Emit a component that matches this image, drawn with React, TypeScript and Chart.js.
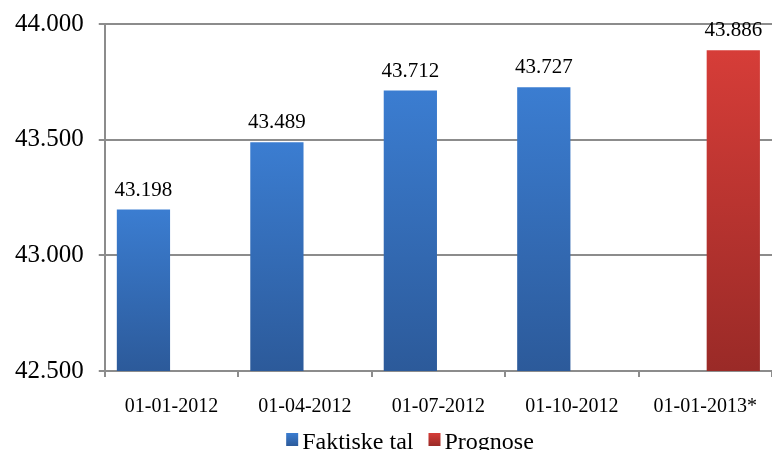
import { useEffect, useRef } from 'react';
import { Chart, registerables } from 'chart.js';

Chart.register(...registerables);

const categories = ['01-01-2012', '01-04-2012', '01-07-2012', '01-10-2012', '01-01-2013*'];
const actualValues: (number | null)[] = [43198, 43489, 43712, 43727, null];
const forecastValues: (number | null)[] = [null, null, null, null, 43886];
const seriesNames = ['Faktiske tal', 'Prognose'];
const yMin = 42500;
const yMax = 44000;
const yStep = 500;

const FONT = '"Liberation Serif", "Times New Roman", serif';
const BLUE_TOP = '#3b7dd1';
const BLUE_BOTTOM = '#2c5a9a';
const RED_TOP = '#d63d38';
const RED_BOTTOM = '#9a2a27';

const fmt = (n: number) => {
  const t = Math.floor(n / 1000);
  const r = Math.round(n % 1000);
  return t + '.' + String(r).padStart(3, '0');
};

function barGradient(ctx: any, top: string, bottom: string) {
  const chart = ctx.chart;
  const area = chart.chartArea;
  const v = ctx.raw;
  if (!area || v == null || !chart.scales.y) return top;
  const y = chart.scales.y.getPixelForValue(v);
  const g = chart.ctx.createLinearGradient(0, y, 0, area.bottom);
  g.addColorStop(0, top);
  g.addColorStop(1, bottom);
  return g;
}

const labelPlugin = {
  id: 'valueLabels',
  afterDatasetsDraw(chart: any) {
    const c = chart.ctx;
    c.save();
    c.font = '21px ' + FONT;
    c.fillStyle = '#000';
    c.textAlign = 'center';
    c.textBaseline = 'alphabetic';
    chart.data.datasets.forEach((ds: any, i: number) => {
      const meta = chart.getDatasetMeta(i);
      meta.data.forEach((el: any, j: number) => {
        const v = ds.data[j];
        if (v == null) return;
        c.fillText(fmt(v), el.x, el.y - 14);
      });
    });
    c.restore();
  },
};

const legendPlugin = {
  id: 'customLegend',
  afterDraw(chart: any) {
    const c = chart.ctx;
    c.save();
    c.font = '24px ' + FONT;
    c.textBaseline = 'alphabetic';
    c.textAlign = 'left';
    const items = [
      { text: seriesNames[0], top: BLUE_TOP, bottom: BLUE_BOTTOM },
      { text: seriesNames[1], top: RED_TOP, bottom: RED_BOTTOM },
    ];
    const box = 12;
    const gapBoxText = 4;
    const gapItems = 15;
    let total = 0;
    items.forEach((it, i) => {
      total += box + gapBoxText + c.measureText(it.text).width + (i < items.length - 1 ? gapItems : 0);
    });
    let x = 410 - total / 2;
    const baseline = 449;
    const boxTop = 433;
    items.forEach((it) => {
      const g = c.createLinearGradient(0, boxTop, 0, boxTop + 13);
      g.addColorStop(0, it.top);
      g.addColorStop(1, it.bottom);
      c.fillStyle = g;
      c.fillRect(x, boxTop, box, 13);
      x += box + gapBoxText;
      c.fillStyle = '#000';
      c.fillText(it.text, x, baseline);
      x += c.measureText(it.text).width + gapItems;
    });
    c.restore();
  },
};

export default function App() {
  const ref = useRef<HTMLCanvasElement | null>(null);
  useEffect(() => {
    document.body.style.margin = '0';
    if (!ref.current) return;
    const chart = new Chart(ref.current, {
      type: 'bar',
      data: {
        labels: categories,
        datasets: [
          {
            label: seriesNames[0],
            data: actualValues,
            backgroundColor: (ctx: any) => barGradient(ctx, BLUE_TOP, BLUE_BOTTOM),
            categoryPercentage: 0.84,
            barPercentage: 0.95,
          },
          {
            label: seriesNames[1],
            data: forecastValues,
            backgroundColor: (ctx: any) => barGradient(ctx, RED_TOP, RED_BOTTOM),
            categoryPercentage: 0.84,
            barPercentage: 0.95,
          },
        ],
      },
      options: {
        animation: false,
        responsive: false,
        layout: { padding: { top: 24, left: 0, right: 0, bottom: 13 } },
        plugins: {
          tooltip: { enabled: false },
          legend: { display: false },
        },
        scales: {
          x: {
            afterFit: (s: any) => {
              s.paddingRight = 0;
              s.paddingLeft = 0;
            },
            grid: {
              drawOnChartArea: false,
              drawTicks: true,
              tickLength: 6,
              color: '#8c8c8c',
              lineWidth: 2,
            },
            border: { color: '#8c8c8c', width: 2 },
            ticks: {
              font: { family: FONT, size: 20 },
              color: '#000',
              padding: 18,
              maxRotation: 0,
            },
          },
          y: {
            min: yMin,
            max: yMax,
            afterFit: (s: any) => {
              s.paddingTop = 0;
            },
            grid: {
              color: '#8c8c8c',
              lineWidth: 2,
              tickLength: 6,
            },
            border: { color: '#8c8c8c', width: 2 },
            ticks: {
              stepSize: yStep,
              font: { family: FONT, size: 25 },
              color: '#000',
              padding: 15,
              callback: (v: any) => fmt(Number(v)),
            },
          },
        },
      },
      plugins: [labelPlugin, legendPlugin],
    });
    return () => chart.destroy();
  }, []);
  return (
    <div style={{ width: 772, height: 450 }}>
      <canvas ref={ref} width={772} height={450} style={{ width: 772, height: 450, display: 'block' }} />
    </div>
  );
}
